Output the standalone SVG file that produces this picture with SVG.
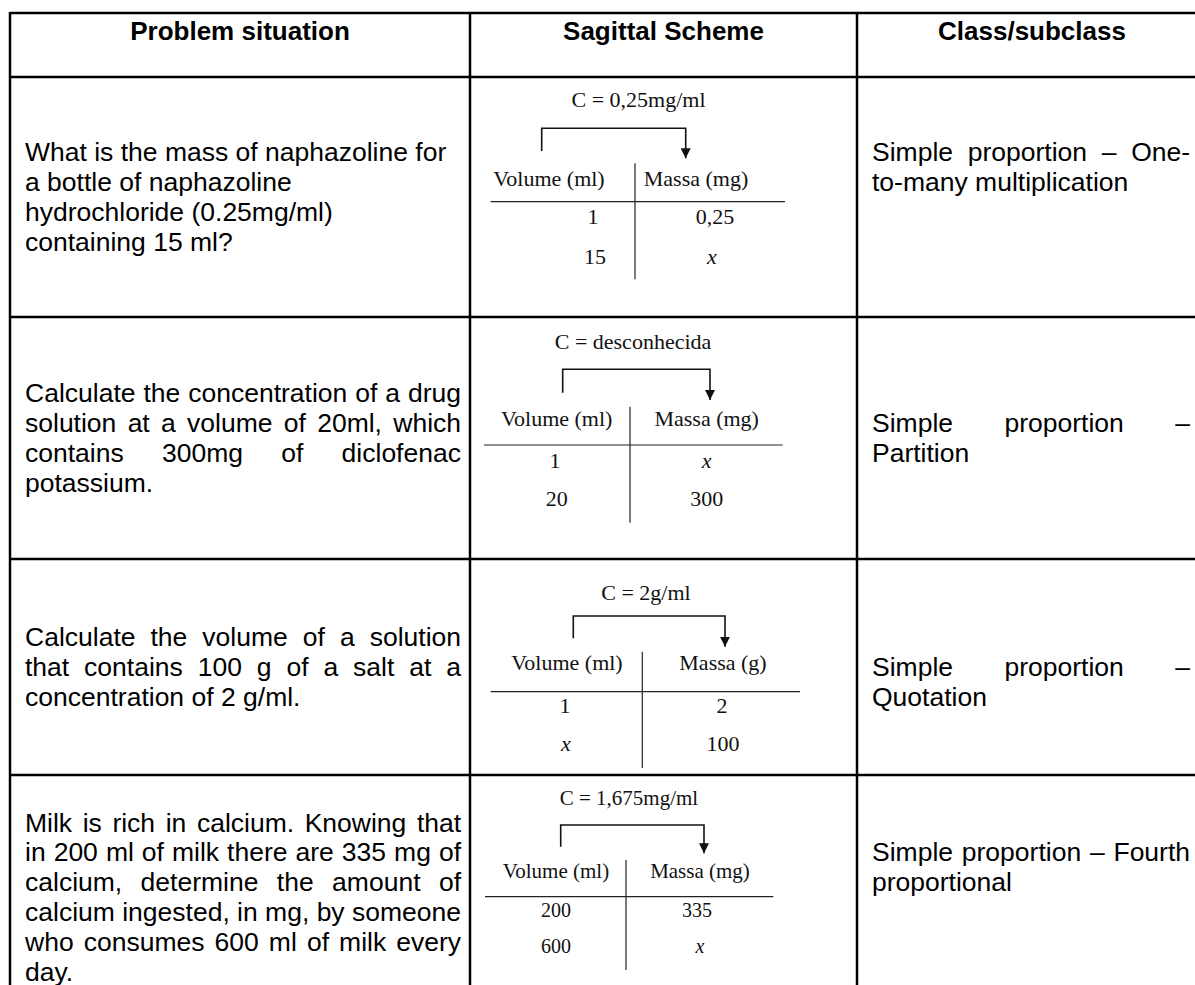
<svg xmlns="http://www.w3.org/2000/svg" width="1195" height="985" viewBox="0 0 1195 985">
<style>
.b{font-family:"Liberation Sans",Arial,sans-serif;font-size:26.5px;fill:#000}
.h{font-weight:bold;font-size:26px;text-anchor:middle}
.t{font-family:"Liberation Serif","Times New Roman",serif;font-size:22px;text-anchor:middle;fill:#111}
.s{font-size:21px}
.n{font-size:20px}
.i{font-style:italic}
.grid{stroke:#000;stroke-width:2.5;fill:none}
.sl{stroke:#222;stroke-width:1.2;fill:none}
.br{stroke:#111;stroke-width:1.6;fill:none;marker-end:url(#ah)}
</style>
<defs>
<marker id="ah" viewBox="0 0 10 10" refX="10" refY="5" markerWidth="10" markerHeight="10" markerUnits="userSpaceOnUse" orient="auto">
<path d="M0,0 L10,5 L0,10 z" fill="#111"/>
</marker>
</defs>
<rect width="1195" height="985" fill="#fff"/>
<g id="table-grid" class="grid">
<line x1="10" y1="13" x2="1195" y2="13"/>
<line x1="10" y1="77" x2="1195" y2="77"/>
<line x1="10" y1="317" x2="1195" y2="317"/>
<line x1="10" y1="559" x2="1195" y2="559"/>
<line x1="10" y1="775" x2="1195" y2="775"/>
<line x1="10" y1="12" x2="10" y2="985"/>
<line x1="470" y1="12" x2="470" y2="985"/>
<line x1="857" y1="12" x2="857" y2="985"/>
</g>
<g id="header">
<text class="b h" x="240" y="40">Problem situation</text>
<text class="b h" x="663.5" y="40">Sagittal Scheme</text>
<text class="b h" x="1032" y="40">Class/subclass</text>
</g>
<g id="row1-problem">
<text class="b" x="25" y="161.2">What is the mass of naphazoline for</text>
<text class="b" x="25" y="191.1">a bottle of naphazoline</text>
<text class="b" x="25" y="221">hydrochloride (0.25mg/ml)</text>
<text class="b" x="25" y="250.9">containing 15 ml?</text>
</g>
<g id="row1-scheme">
<text class="t" x="638.5" y="107">C = 0,25mg/ml</text>
<text class="t" x="549" y="186">Volume (ml)</text>
<text class="t" x="696" y="186">Massa (mg)</text>
<text class="t" x="593" y="224">1</text>
<text class="t" x="715" y="224">0,25</text>
<text class="t" x="595" y="264">15</text>
<text class="t i" x="712" y="264">x</text>
</g>
<g id="row1-class">
<text class="b" x="872" y="161.2" word-spacing="7.33">Simple proportion – One-</text>
<text class="b" x="872" y="191.1">to-many multiplication</text>
</g>
<g id="row2-problem">
<text class="b" x="25" y="402.2" word-spacing="0.58">Calculate the concentration of a drug</text>
<text class="b" x="25" y="432.1" word-spacing="3.93">solution at a volume of 20ml, which</text>
<text class="b" x="25" y="462" word-spacing="30.9">contains 300mg of diclofenac</text>
<text class="b" x="25" y="491.9">potassium.</text>
</g>
<g id="row2-scheme">
<text class="t" x="633" y="349">C = desconhecida</text>
<text class="t" x="556.7" y="426">Volume (ml)</text>
<text class="t" x="706.7" y="426">Massa (mg)</text>
<text class="t" x="555" y="468">1</text>
<text class="t i" x="706.7" y="468">x</text>
<text class="t" x="556.7" y="506">20</text>
<text class="t" x="706.7" y="506">300</text>
</g>
<g id="row2-class">
<text class="b" x="872" y="432.1" word-spacing="44.1">Simple proportion –</text>
<text class="b" x="872" y="462">Partition</text>
</g>
<g id="row3-problem">
<text class="b" x="25" y="646.1" word-spacing="7.66">Calculate the volume of a solution</text>
<text class="b" x="25" y="676" word-spacing="7.54">that contains 100 g of a salt at a</text>
<text class="b" x="25" y="705.9">concentration of 2 g/ml.</text>
</g>
<g id="row3-scheme">
<text class="t" x="646" y="600">C = 2g/ml</text>
<text class="t" x="567" y="670">Volume (ml)</text>
<text class="t" x="723" y="670">Massa (g)</text>
<text class="t" x="565" y="713">1</text>
<text class="t" x="722" y="713">2</text>
<text class="t i" x="566" y="751">x</text>
<text class="t" x="723" y="751">100</text>
</g>
<g id="row3-class">
<text class="b" x="872" y="676" word-spacing="44.1">Simple proportion –</text>
<text class="b" x="872" y="705.9">Quotation</text>
</g>
<g id="row4-problem">
<text class="b" x="25" y="831.5" word-spacing="3.22">Milk is rich in calcium. Knowing that</text>
<text class="b" x="25" y="861.4" word-spacing="0.66">in 200 ml of milk there are 335 mg of</text>
<text class="b" x="25" y="891.3" word-spacing="11.05">calcium, determine the amount of</text>
<text class="b" x="25" y="921.2">calcium ingested, in mg, by someone</text>
<text class="b" x="25" y="951.1" word-spacing="2.72">who consumes 600 ml of milk every</text>
<text class="b" x="25" y="981">day.</text>
</g>
<g id="row4-scheme">
<text class="t s" x="629" y="805">C = 1,675mg/ml</text>
<text class="t s" x="556" y="878">Volume (ml)</text>
<text class="t s" x="700" y="878">Massa (mg)</text>
<text class="t n" x="556" y="917">200</text>
<text class="t n" x="697" y="917">335</text>
<text class="t n" x="556" y="953">600</text>
<text class="t n i" x="700" y="953">x</text>
</g>
<g id="row4-class">
<text class="b" x="872" y="861.4" word-spacing="1.43">Simple proportion – Fourth</text>
<text class="b" x="872" y="891.3">proportional</text>
</g>
<g id="connectors">
<path class="br" d="M541.7,151 V128.3 H685.7 V158.3"/>
<path class="br" d="M562.7,392.7 V369.3 H710 V400"/>
<path class="br" d="M573.3,638.3 V616 H725 V646.7"/>
<path class="br" d="M560.7,846.7 V825 H704 V853.3"/>
<path class="sl" d="M490.7,201.7 H785 M635,163.3 V279.3"/>
<path class="sl" d="M484,445 H782.7 M630,406.7 V522.7"/>
<path class="sl" d="M490.7,691.7 H800 M642.3,651.7 V768"/>
<path class="sl" d="M485,896.7 H773.3 M626,860 V970"/>
</g>
</svg>
